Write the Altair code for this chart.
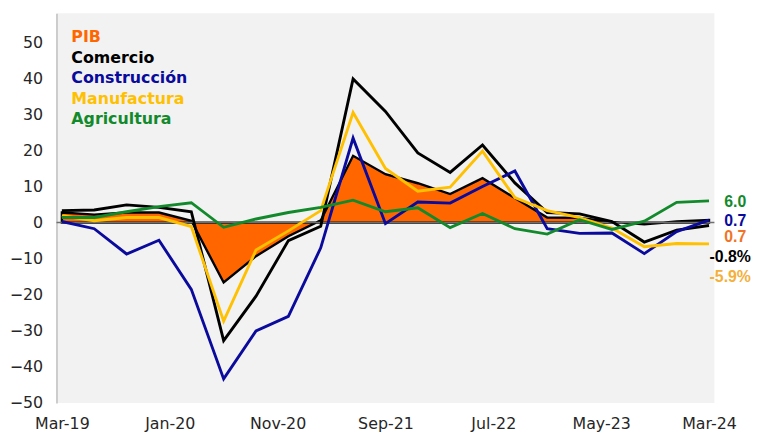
import altair as alt
import pandas as pd

quarters = ["2019-03", "2019-06", "2019-09", "2019-12", "2020-03", "2020-06", "2020-09",
            "2020-12", "2021-03", "2021-06", "2021-09", "2021-12", "2022-03", "2022-06",
            "2022-09", "2022-12", "2023-03", "2023-06", "2023-09", "2023-12", "2024-03"]

pib = [2.8, 2.2, 2.8, 2.8, 0.5, -16.6, -9.3, -3.8, 0.6, 18.5, 13.4, 10.9, 7.9, 12.3,
       6.8, 1.4, 1.3, 0.2, -0.5, 0.3, 0.7]
comercio = [3.3, 3.5, 4.9, 4.2, 3.0, -32.7, -20.4, -5.0, -1.0, 39.8, 30.8, 19.3, 13.9, 21.5,
            11.0, 2.8, 2.4, 0.3, -5.4, -2.1, -0.8]
construccion = [0.3, -1.7, -8.7, -4.9, -18.5, -43.3, -30.0, -26.0, -7.0, 23.4, -0.3, 5.7, 5.4,
                10.0, 14.3, -1.7, -3.0, -2.9, -8.6, -2.5, 0.7]
manufactura = [1.9, 0.5, 1.4, 1.4, -1.1, -27.3, -7.6, -2.3, 3.3, 30.5, 15.0, 8.7, 9.8, 19.8,
               6.9, 3.3, 1.4, -1.5, -6.7, -5.8, -5.9]
agricultura = [1.4, 1.4, 3.0, 4.4, 5.5, -1.3, 1.0, 2.8, 4.2, 6.2, 3.0, 4.1, -1.4, 2.5,
               -1.7, -3.2, 0.8, -1.9, 0.4, 5.6, 6.0]

tick_labels = ["Mar-19", "Jan-20", "Nov-20", "Sep-21", "Jul-22", "May-23", "Mar-24"]
y_ticks = [-50, -40, -30, -20, -10, 0, 10, 20, 30, 40, 50]
end_labels = ["6.0", "0.7", "0.7", "-0.8%", "-5.9%"]

colors = {
    "PIB": "#FF6600",
    "Comercio": "#000000",
    "Construcción": "#0A0A9C",
    "Manufactura": "#FFC000",
    "Agricultura": "#128A2C",
}

def month_index(s):
    y, m = s.split("-")
    return (int(y) - 2019) * 12 + int(m) - 3

months = [month_index(q) for q in quarters]

series = {
    "PIB": pib,
    "Comercio": comercio,
    "Construcción": construccion,
    "Manufactura": manufactura,
    "Agricultura": agricultura,
}

rows = []
for name, vals in series.items():
    for m, v in zip(months, vals):
        rows.append({"serie": name, "mes": m, "valor": v})
df = pd.DataFrame(rows)

FONT = "DejaVu Sans"
label_expr = "[" + ",".join("'" + t + "'" for t in tick_labels) + "][round(datum.value/10)]"

x_enc = alt.X("mes:Q",
              scale=alt.Scale(domain=[-0.5, 60.5], nice=False, zero=False),
              axis=alt.Axis(values=[0, 10, 20, 30, 40, 50, 60], labelExpr=label_expr,
                            title=None, domain=False, ticks=False, grid=False,
                            labelFont=FONT, labelFontSize=16, labelColor="#262626",
                            labelPadding=13, labelFlush=False, labelOverlap=False))
y_enc = alt.Y("valor:Q",
              scale=alt.Scale(domain=[-50, 58], nice=False, zero=False),
              axis=alt.Axis(values=y_ticks, title=None, domain=True,
                            domainColor="#BFBFBF", domainWidth=1.5, ticks=False, grid=False,
                            labelFont=FONT, labelFontSize=16, labelColor="#262626",
                            labelPadding=14, labelOverlap=False, labelBound=False,
                            labelFlush=False))

base = alt.Chart(df)

area = base.transform_filter(alt.datum.serie == "PIB").mark_area(
    color=colors["PIB"], opacity=1, stroke="#000000", strokeWidth=2.4, strokeJoin="miter"
).encode(x=x_enc, y=y_enc)

zero = alt.Chart(pd.DataFrame({"valor": [0]})).mark_rule(color="#6F6F6F", strokeWidth=1.5).encode(
    y=y_enc)

layers = [area, zero]
for name in ["Comercio", "Construcción", "Manufactura", "Agricultura"]:
    layers.append(
        base.transform_filter(alt.datum.serie == name).mark_line(
            color=colors[name], strokeWidth=2.9, strokeJoin="miter"
        ).encode(x=x_enc, y=y_enc)
    )

# legend text (top-left, inside plot)
legend_y = [24, 45, 65.7, 86.3, 107]
for (name, col), yy in zip(colors.items(), legend_y):
    layers.append(
        alt.Chart(pd.DataFrame({"t": [name]})).mark_text(
            font=FONT, fontSize=16, fontWeight="bold", color=col, align="left",
            baseline="middle"
        ).encode(text="t:N", x=alt.value(15), y=alt.value(yy))
    )

# end labels at right
end_series = ["Agricultura", "Construcción", "PIB", "Comercio", "Manufactura"]
end_colors = ["#128A2C", "#0A0A9C", "#F07427", "#000000", "#F4B03A"]
end_dy = [1, 1, 17, 32, 34]
end_x = [686, 686, 686, 681, 681]
for s, lab, col, dy, xx in zip(end_series, end_labels, end_colors, end_dy, end_x):
    last = series[s][-1]
    layers.append(
        alt.Chart(pd.DataFrame({"t": [lab], "valor": [last]})).mark_text(
            font="Liberation Sans", fontSize=16, fontWeight="bold", color=col,
            align="center", baseline="middle", dy=dy
        ).encode(text="t:N", x=alt.value(xx), y=y_enc)
    )

chart = alt.layer(*layers).properties(
    width=665, height=394,
    autosize=alt.AutoSizeParams(type="none"),
    padding={"left": 49, "top": 3, "right": 38, "bottom": 30},
    background="#FFFFFF",
).configure_view(fill="#F2F2F2", stroke=None).configure_axisY(labelOverlap=False)

chart.save("out.html", embed_options={"renderer": "svg", "actions": False})
